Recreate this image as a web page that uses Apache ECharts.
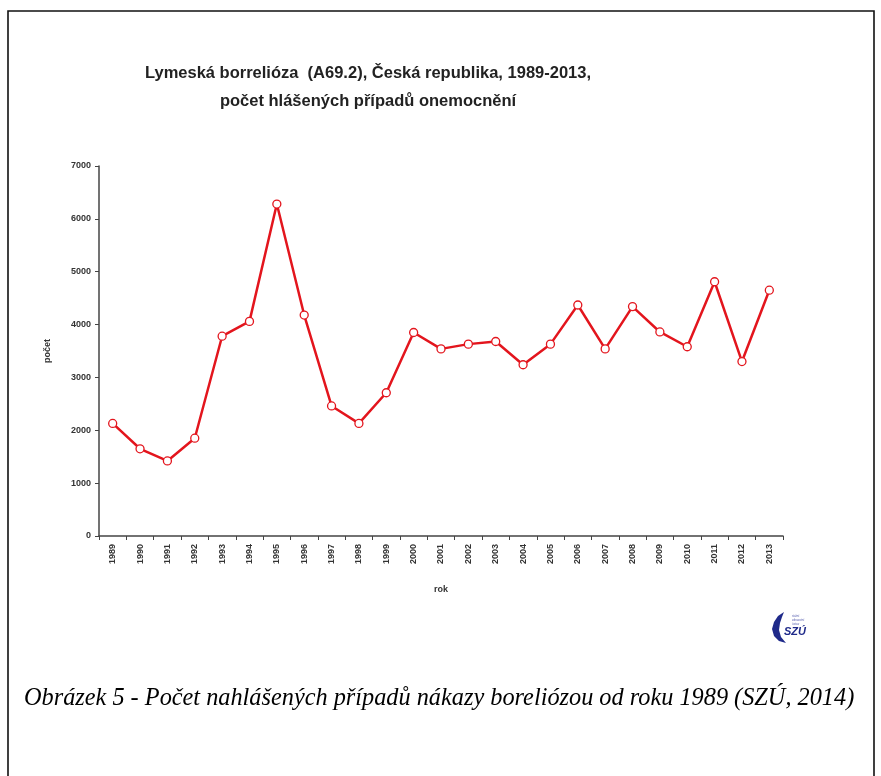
<!DOCTYPE html>
<html>
<head>
<meta charset="utf-8">
<script src="https://cdn.jsdelivr.net/npm/echarts@6/dist/echarts.min.js"></script>
<style>
  html, body { margin: 0; padding: 0; background: #fff; }
  #chart { width: 881px; height: 776px; }
</style>
</head>
<body>
<div id="chart"></div>
<script>
// Reported Lyme borreliosis cases in the Czech Republic, 1989–2013
const years = ['1989','1990','1991','1992','1993','1994','1995','1996','1997','1998','1999','2000',
  '2001','2002','2003','2004','2005','2006','2007','2008','2009','2010','2011','2012','2013'];
const cases = [2130, 1650, 1420, 1850, 3780, 4060, 6280, 4180, 2460, 2130, 2710, 3850,
  3540, 3630, 3680, 3240, 3630, 4370, 3540, 4340, 3860, 3580, 4810, 3300, 4650];
const yTicks = { min: 0, max: 7000, interval: 1000 };

const titleText = 'Lymeská borrelióza  (A69.2), Česká republika, 1989-2013,\npočet hlášených případů onemocnění';
const captionText = 'Obrázek 5 - Počet nahlášených případů nákazy boreliózou od roku 1989 (SZÚ, 2014)';

const chart = echarts.init(document.getElementById('chart'), null, { renderer: 'canvas' });

const labelFont = { fontFamily: 'Liberation Sans, Arial, sans-serif', fontWeight: 'bold', fontSize: 9, color: '#333' };

chart.setOption({
  backgroundColor: '#fff',
  animation: false,
  title: {
    text: titleText,
    left: 363,
    top: 54,
    textAlign: 'center',
    textStyle: {
      fontFamily: 'Liberation Sans, Arial, sans-serif',
      fontWeight: 'bold',
      fontSize: 16.5,
      lineHeight: 28,
      color: '#222'
    }
  },
  grid: { left: 99, right: 98, top: 166, bottom: 240 },
  xAxis: {
    type: 'category',
    data: years,
    boundaryGap: true,
    name: 'rok',
    nameLocation: 'middle',
    nameGap: 49,
    nameTextStyle: labelFont,
    axisLine: { lineStyle: { color: '#444', width: 1.5 } },
    axisTick: { show: true, length: 4, lineStyle: { color: '#444' } },
    axisLabel: Object.assign({ rotate: 90, margin: 8, interval: 0 }, labelFont)
  },
  yAxis: {
    type: 'value',
    min: yTicks.min,
    max: yTicks.max,
    interval: yTicks.interval,
    name: 'počet',
    nameLocation: 'middle',
    nameGap: 47,
    nameRotate: 90,
    nameTextStyle: labelFont,
    splitLine: { show: false },
    axisLine: { show: true, lineStyle: { color: '#444', width: 1.5 } },
    axisTick: { show: true, length: 4, lineStyle: { color: '#444' } },
    axisLabel: Object.assign({ margin: 8, formatter: v => String(v) }, labelFont)
  },
  series: [{
    type: 'line',
    data: cases,
    symbol: 'circle',
    symbolSize: 8,
    lineStyle: { color: '#e3151d', width: 2.5 },
    itemStyle: { color: '#fff', borderColor: '#e3151d', borderWidth: 1.3 },
    z: 3
  }],
  graphic: [
    // frame around the figure
    {
      type: 'polyline',
      shape: { points: [[8, 776], [8, 11], [874, 11], [874, 776]] },
      style: { stroke: '#111', lineWidth: 1.6, fill: null }
    },
    // SZÚ logo
    {
      type: 'group',
      left: 772,
      top: 612,
      children: [
        {
          type: 'polygon',
          shape: { points: [[14, 2], [8, 6], [4, 12], [2, 19], [4, 26], [9, 31], [16, 33], [11, 27], [9, 20], [10, 13], [12, 7]] },
          style: { fill: '#1f2a8a' }
        },
        {
          type: 'text',
          style: { x: 14, y: 16, text: 'SZÚ', fill: '#1f2a8a', font: 'italic bold 11px Liberation Sans, Arial' }
        },
        {
          type: 'text',
          style: { x: 22, y: 4, text: 'státní\nzdravotní\nústav', fill: '#5a62b0', font: '3px Liberation Sans, Arial', lineHeight: 4 }
        }
      ]
    },
    // figure caption
    {
      type: 'text',
      left: 24,
      top: 687,
      style: {
        text: captionText,
        fill: '#000',
        font: 'italic 24.3px Liberation Serif, Times New Roman, serif'
      }
    }
  ]
});
</script>
</body>
</html>
